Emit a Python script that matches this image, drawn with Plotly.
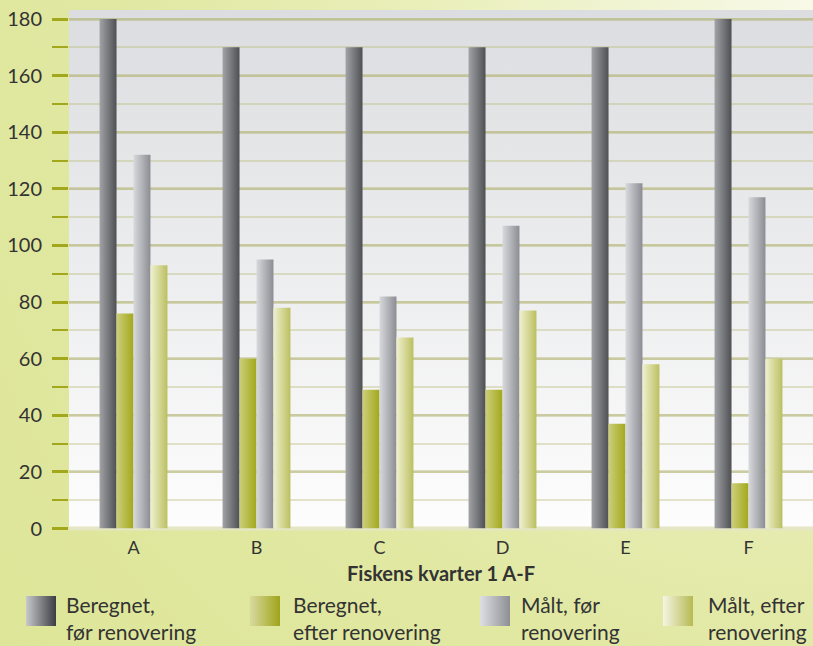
import plotly.graph_objects as go

# ---------------- data ----------------
categories = ["A", "B", "C", "D", "E", "F"]
beregnet_foer = [180, 170, 170, 170, 170, 180]
beregnet_efter = [76, 60, 49, 49, 37, 16]
maalt_foer = [132, 95, 82, 107, 122, 117]
maalt_efter = [93, 78, 67.5, 77, 58, 60]
series_names = ["Beregnet,<br>før renovering", "Beregnet,<br>efter renovering",
                "Målt, før<br>renovering", "Målt, efter<br>renovering"]
y_tick_values = [0, 20, 40, 60, 80, 100, 120, 140, 160, 180]
x_title = "Fiskens kvarter 1 A-F"

# ---------------- styling ----------------
W, H = 813, 646
PL, PR, PT, PB = 69, 813, 10, 528.5          # plot area in pixels
bar_grads = [("#a2a3a7", "#4f5054"), ("#cdcf7a", "#a2a81c"),
             ("#d8d9dd", "#8c8d92"), ("#f0f1cf", "#bbbf60")]
legend_grads = [("#c8c9cc", "#3c3d42"), ("#d8da9e", "#9fa41a"),
                ("#dedfe3", "#8e8f94"), ("#f5f5e4", "#b6ba52")]
legend_x = [26, 250, 480, 663]
text_x = [64, 291, 519, 706]
FONT = "Lato, Open Sans, sans-serif"
TXT = "#333333"
OLIVE = "#a3a71c"

series = [beregnet_foer, beregnet_efter, maalt_foer, maalt_efter]
n_series = len(series)
bar_w = 0.138

fig = go.Figure()

# ---- decorative background (pixel subplot xy) ----
cx, cy, R = 813, 0, 1250
fig.add_trace(go.Scatter(
    x=[cx - R, cx + R, cx + R, cx - R, cx - R], y=[cy - R, cy - R, cy + R, cy + R, cy - R],
    mode="lines", fill="toself", line=dict(width=0),
    fillgradient=dict(type="radial",
                      colorscale=[[0, "#f8f9e8"], [0.3, "#eaefbb"], [0.55, "#e1e8a2"], [1, "#dbe493"]]),
    hoverinfo="skip", showlegend=False, xaxis="x", yaxis="y"))
# plot-area background
fig.add_trace(go.Scatter(
    x=[PL, PR, PR, PL, PL], y=[PT, PT, PB, PB, PT],
    mode="lines", fill="toself", line=dict(width=0),
    fillgradient=dict(type="vertical", colorscale=[[0, "#fdfdfd"], [1, "#dcdde0"]]),
    hoverinfo="skip", showlegend=False, xaxis="x", yaxis="y"))
# floor strip
fig.add_trace(go.Scatter(
    x=[PL, PR, PR, PL, PL], y=[PB - 2, PB - 2, PB + 2, PB + 2, PB - 2],
    mode="lines", fill="toself", line=dict(width=0), fillcolor="#e4e6c4",
    hoverinfo="skip", showlegend=False, xaxis="x", yaxis="y"))

# legend swatches
for k in range(n_series):
    x0 = legend_x[k]
    fig.add_trace(go.Scatter(
        x=[x0, x0 + 30, x0 + 30, x0, x0], y=[596, 596, 626, 626, 596],
        mode="lines", fill="toself", line=dict(width=0),
        fillgradient=dict(type="horizontal",
                          colorscale=[[0, legend_grads[k][0]], [1, legend_grads[k][1]]]),
        hoverinfo="skip", showlegend=False, xaxis="x", yaxis="y"))

# ---- bars (data subplot x2y2) ----
for s, vals in enumerate(series):
    for i, v in enumerate(vals):
        left = i + (s - n_series / 2) * bar_w
        right = left + bar_w
        fig.add_trace(go.Scatter(
            x=[left, right, right, left, left], y=[0, 0, v, v, 0],
            mode="lines", fill="toself", line=dict(width=0),
            fillgradient=dict(type="horizontal",
                              colorscale=[[0, bar_grads[s][0]], [1, bar_grads[s][1]]]),
            name=series_names[s].replace("<br>", " "),
            hoverinfo="skip", showlegend=False, xaxis="x2", yaxis="y2"))

# legend text
for k in range(n_series):
    fig.add_annotation(x=text_x[k] / W, y=1 - 618 / H, xref="paper", yref="paper",
                       text=series_names[k], showarrow=False, xanchor="left", yanchor="middle",
                       align="left", font=dict(family=FONT, size=21, color=TXT))

px_per_unit = (PB - 19) / 180.0
y_top = (PB - PT) / px_per_unit
x_step = 123.0
x_left = -(133.5 - PL) / x_step
x_right = x_left + (PR - PL) / x_step

fig.update_layout(
    width=W, height=H,
    margin=dict(l=0, r=0, t=0, b=0, pad=0, autoexpand=False),
    paper_bgcolor="#e0e79e", plot_bgcolor="rgba(0,0,0,0)",
    xaxis=dict(domain=[0, 1], range=[0, W], visible=False, fixedrange=True, automargin=False),
    yaxis=dict(domain=[0, 1], range=[H, 0], visible=False, fixedrange=True, automargin=False),
    xaxis2=dict(domain=[PL / W, PR / W], anchor="y2", range=[x_left, x_right],
                tickvals=list(range(len(categories))), ticktext=categories,
                showgrid=False, zeroline=False, ticks="", showline=False, automargin=False,
                ticklabelstandoff=6, fixedrange=True,
                tickfont=dict(family=FONT, size=18, color=TXT),
                title=dict(text="<b>" + x_title + "</b>", standoff=10,
                           font=dict(family=FONT, size=20, color=TXT))),
    yaxis2=dict(domain=[1 - PB / H, 1 - PT / H], anchor="x2", range=[0, y_top],
                tickvals=y_tick_values, zeroline=False, automargin=False, fixedrange=True,
                showgrid=True, gridcolor="rgba(170,172,100,0.38)", gridwidth=3,
                ticks="outside", ticklen=16, tickwidth=3, tickcolor=OLIVE,
                ticklabelstandoff=6,
                tickfont=dict(family=FONT, size=20, color=TXT),
                minor=dict(dtick=10, tick0=0, ticks="outside", ticklen=16, tickwidth=2,
                           tickcolor=OLIVE, showgrid=True,
                           gridcolor="rgba(180,182,110,0.36)", gridwidth=2)),
    showlegend=False,
)

fig.write_html("out.html", config={"displayModeBar": False, "staticPlot": True},
               post_script="document.body.style.margin='0';document.body.style.overflow='hidden';")
